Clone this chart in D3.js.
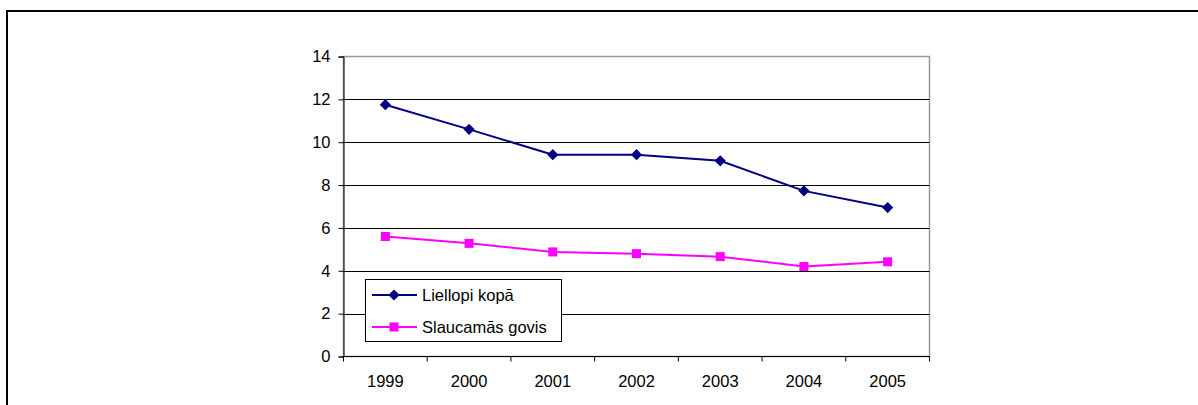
<!DOCTYPE html>
<html><head><meta charset="utf-8">
<script src="https://cdn.jsdelivr.net/npm/d3@7"></script>
<style>body{margin:0;background:#fff;}svg{display:block;font-family:"Liberation Sans",Arial,sans-serif;}</style>
</head><body>
<svg id="c" width="1198" height="405"></svg>
<script>
const years = ["1999","2000","2001","2002","2003","2004","2005"];
const liellopi = [11.75, 10.6, 9.42, 9.42, 9.13, 7.73, 6.95];
const slaucamas = [5.6, 5.28, 4.88, 4.8, 4.66, 4.2, 4.42];
const seriesNames = ["Liellopi kopā", "Slaucamās govis"];
const yTicks = [0, 2, 4, 6, 8, 10, 12, 14];

const FS = 16.5;
const svg = d3.select("#c");
// outer frame
svg.append("rect").attr("x",7).attr("y",11).attr("width",1300).attr("height",500)
  .attr("fill","none").attr("stroke","#000").attr("stroke-width",2);

const L=343.5, R=929.5, T=56.5, B=356.5;
const x = d3.scaleBand().domain(years).range([L,R]);
const y = d3.scaleLinear().domain([0,14]).range([B,T]);

// plot border (gray)
svg.append("rect").attr("x",L).attr("y",T).attr("width",R-L).attr("height",B-T)
  .attr("fill","#fff").attr("stroke","#999").attr("stroke-width",1.5);

// gridlines
svg.append("g").selectAll("line").data(yTicks.filter(d=>d>0&&d<14)).join("line")
  .attr("x1",L).attr("x2",R).attr("y1",d=>Math.round(y(d))+0.5).attr("y2",d=>Math.round(y(d))+0.5)
  .attr("stroke","#000").attr("stroke-width",1);

// y axis
const yAxis = svg.append("g").attr("transform",`translate(${L},0)`)
  .call(d3.axisLeft(y).tickValues(yTicks).tickSize(5).tickPadding(8).tickFormat(d3.format("d")));
yAxis.attr("font-size",FS).attr("font-family","'Liberation Sans',Arial,sans-serif");
yAxis.select(".domain").attr("stroke","#000");
yAxis.selectAll("text").attr("fill","#000");

// x axis
const xAxis = svg.append("g").attr("transform",`translate(0,${B})`)
  .call(d3.axisBottom(x).tickSize(0).tickPadding(19));
xAxis.attr("font-size",FS).attr("font-family","'Liberation Sans',Arial,sans-serif");
xAxis.select(".domain").remove();
xAxis.selectAll("text").attr("fill","#000");
svg.append("line").attr("x1",L).attr("x2",R).attr("y1",B).attr("y2",B).attr("stroke","#000");
const xTickPos = years.map(d=>x(d)).concat([x.range()[1]]);
svg.append("g").selectAll("line").data(xTickPos).join("line")
  .attr("x1",d=>d).attr("x2",d=>d).attr("y1",B).attr("y2",B+5).attr("stroke","#000");

const cx = d => x(d) + x.bandwidth()/2;
const line = d3.line().x((d,i)=>cx(years[i])).y(d=>y(d));

const c1 = "#000080", c2 = "#FF00FF";
svg.append("path").datum(liellopi).attr("d",line).attr("fill","none").attr("stroke",c1).attr("stroke-width",2);
svg.append("path").datum(slaucamas).attr("d",line).attr("fill","none").attr("stroke",c2).attr("stroke-width",2);

const diamond = d3.symbol().type(d3.symbolDiamond2).size(80);
svg.append("g").selectAll("path").data(liellopi).join("path")
  .attr("transform",(d,i)=>`translate(${cx(years[i])},${y(d)})`)
  .attr("d",diamond).attr("fill",c1);
svg.append("g").selectAll("rect").data(slaucamas).join("rect")
  .attr("x",(d,i)=>cx(years[i])-4.5).attr("y",d=>y(d)-4.5).attr("width",9).attr("height",9).attr("fill",c2);

// legend
const lg = svg.append("g");
lg.append("rect").attr("x",365.5).attr("y",279.5).attr("width",196).attr("height",62)
  .attr("fill","#fff").attr("stroke","#000").attr("stroke-width",1);
const rows = [{n:seriesNames[0],c:c1,t:"d",yy:295},{n:seriesNames[1],c:c2,t:"s",yy:327}];
rows.forEach(r=>{
  lg.append("line").attr("x1",372).attr("x2",417).attr("y1",r.yy).attr("y2",r.yy).attr("stroke",r.c).attr("stroke-width",2);
  if(r.t==="d") lg.append("path").attr("transform",`translate(394,${r.yy})`).attr("d",diamond).attr("fill",r.c);
  else lg.append("rect").attr("x",389.5).attr("y",r.yy-4.5).attr("width",9).attr("height",9).attr("fill",r.c);
  lg.append("text").attr("x",422).attr("y",r.yy).attr("dy","0.35em").attr("font-size",FS)
    .attr("font-family","'Liberation Sans',Arial,sans-serif").attr("fill","#000").text(r.n);
});
</script>
</body></html>
